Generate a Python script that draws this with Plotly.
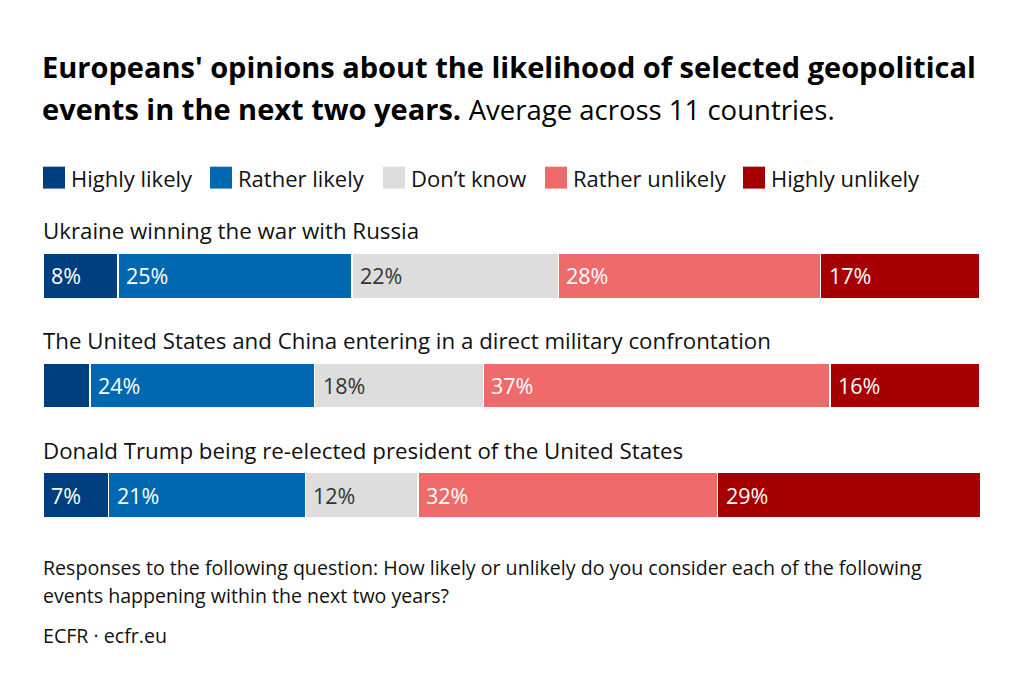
import plotly.graph_objects as go

categories = [
    "Ukraine winning the war with Russia",
    "The United States and China entering in a direct military confrontation",
    "Donald Trump being re-elected president of the United States",
]
series_names = ["Highly likely", "Rather likely", "Don\u2019t know", "Rather unlikely", "Highly unlikely"]
highly_likely = [8, 5, 7]
rather_likely = [25, 24, 21]
dont_know = [22, 18, 12]
rather_unlikely = [28, 37, 32]
highly_unlikely = [17, 16, 29]
show_label = [[True, False, True], [True] * 3, [True] * 3, [True] * 3, [True] * 3]
colors = ["#003f7f", "#0068b0", "#dddddd", "#ef6b6b", "#a60000"]
text_colors = ["white", "white", "#333333", "white", "white"]

title_line1 = "Europeans' opinions about the likelihood of selected geopolitical"
title_line2_bold = "events in the next two years."
subtitle = "Average across 11 countries."
note_lines = [
    "Responses to the following question: How likely or unlikely do you consider each of the following",
    "events happening within the next two years?",
]
source = "ECFR \u00b7 ecfr.eu"

series = [highly_likely, rather_likely, dont_know, rather_unlikely, highly_unlikely]
FONT = "Open Sans"
OFF = 8  # page body margin

fig = go.Figure()
for name, vals, col in zip(series_names, series, colors):
    fig.add_trace(go.Bar(
        y=categories, x=vals, name=name, orientation="h",
        marker=dict(color=col, line=dict(color="white", width=1.5)),
        width=0.41, showlegend=False, hoverinfo="x+name",
    ))

annotations = []
for ci, cat in enumerate(categories):
    cum = 0
    for si, vals in enumerate(series):
        if show_label[si][ci]:
            annotations.append(dict(
                x=cum, y=cat, xref="x", yref="y", text=f"{vals[ci]}%",
                showarrow=False, xanchor="left", xshift=6,
                font=dict(family=FONT, size=21.5, color=text_colors[si]),
            ))
        cum += vals[ci]
    annotations.append(dict(
        x=0, y=cat, xref="x", yref="y", text=cat, showarrow=False,
        xanchor="left", yanchor="middle", yshift=45, xshift=-2,
        font=dict(family=FONT, size=22.3, color="#111111"),
    ))

TOP, BOT = 220.5, 550.5
def py(p):
    return (BOT - p) / (BOT - TOP)

LEFT, RIGHT = 43, 980
W = RIGHT - LEFT
def px(p):
    return (p - LEFT) / W

annotations.append(dict(x=0, y=py(66), xref="paper", yref="paper", text=f"<b>{title_line1}</b>",
                        showarrow=False, xanchor="left", yanchor="middle", xshift=-3,
                        font=dict(family=FONT, size=29, color="#000000")))
annotations.append(dict(x=0, y=py(108), xref="paper", yref="paper",
                        text=f"<b>{title_line2_bold}</b> <span style='font-size:27.5px'>{subtitle}</span>",
                        showarrow=False, xanchor="left", yanchor="middle", xshift=-3,
                        font=dict(family=FONT, size=29, color="#000000")))

legend_x = [43, 210, 383, 545, 743]
shapes = []
for lx, name, col in zip(legend_x, series_names, colors):
    shapes.append(dict(type="rect", xref="paper", yref="paper", x0=px(lx), x1=px(lx + 22),
                       y0=py(188), y1=py(166), fillcolor=col, line=dict(width=0)))
    annotations.append(dict(x=px(lx + 26), y=py(177), xref="paper", yref="paper", text=name,
                            showarrow=False, xanchor="left", yanchor="middle",
                            font=dict(family=FONT, size=22, color="#111111")))

for yy, line in zip([568, 596], note_lines):
    annotations.append(dict(x=0, y=py(yy), xref="paper", yref="paper", text=line,
                            showarrow=False, xanchor="left", yanchor="middle", xshift=-2,
                            font=dict(family=FONT, size=19.6, color="#111111")))
annotations.append(dict(x=0, y=py(636), xref="paper", yref="paper", text=source,
                        showarrow=False, xanchor="left", yanchor="middle", xshift=-2,
                        font=dict(family=FONT, size=19.6, color="#111111")))

fig.update_layout(
    barmode="stack", width=1024 - OFF, height=693 - OFF,
    margin=dict(l=LEFT - OFF, r=1024 - RIGHT, t=TOP - OFF, b=693 - BOT, autoexpand=False),
    paper_bgcolor="white", plot_bgcolor="white",
    xaxis=dict(range=[0, 100], visible=False, fixedrange=True),
    yaxis=dict(autorange=False, range=[2.5, -0.5], visible=False, fixedrange=True),
    annotations=annotations, shapes=shapes, showlegend=False,
    font=dict(family=FONT),
)
fig.write_html("out.html")
